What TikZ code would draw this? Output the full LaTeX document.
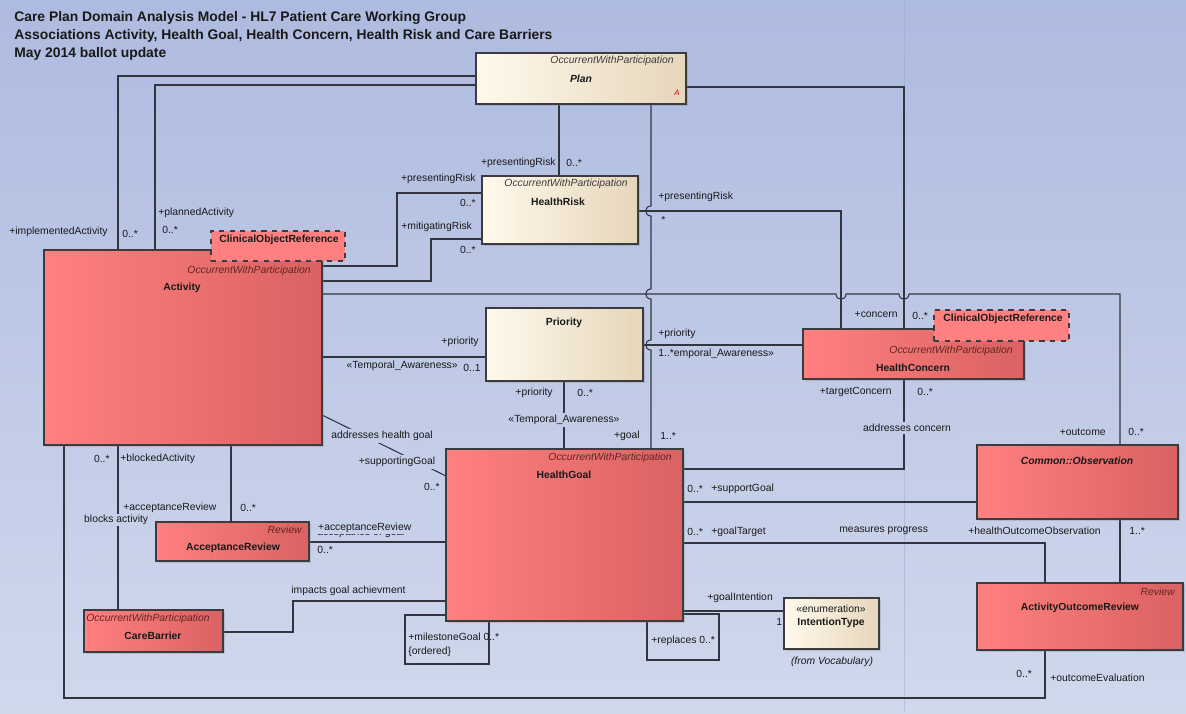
\documentclass[tikz,border=0pt]{standalone}
\usepackage{fontspec}
\setmainfont{Liberation Sans}
\usetikzlibrary{fit,shadows}
\definecolor{bgtop}{RGB}{174,187,224}
\definecolor{bgbot}{RGB}{208,216,236}
\definecolor{redL}{RGB}{255,128,128}
\definecolor{redR}{RGB}{218,98,98}
\definecolor{crL}{RGB}{255,249,236}
\definecolor{crR}{RGB}{230,214,186}
\definecolor{edgec}{RGB}{60,60,64}
\definecolor{lnc}{RGB}{50,52,64}
\definecolor{txt}{RGB}{25,25,25}
\definecolor{sterr}{RGB}{100,35,35}
\definecolor{sterc}{RGB}{60,60,60}
\definecolor{pagec}{RGB}{150,165,205}
\newcommand{\lf}{\fontsize{5.9}{7}\selectfont}
\begin{document}
\begin{tikzpicture}[x=0.02cm,y=-0.02cm,
  cls/.style={draw=edgec, line width=0.6pt, inner sep=0pt,
    drop shadow={shadow xshift=0.04cm, shadow yshift=-0.04cm, opacity=0.3}},
  redbox/.style={cls, left color=redL, middle color=redL, right color=redR},
  creambox/.style={cls, left color=crL, middle color=crL, right color=crR},
  refbox/.style={draw=edgec, dashed, line width=0.6pt, fill=redL, inner sep=0pt},
  lbl/.style={font=\lf, inner sep=0pt, text=txt},
  nm/.style={font=\lf\bfseries, inner sep=0pt, text=txt},
  str/.style={font=\lf\itshape, inner sep=0pt, text=sterr},
  stc/.style={font=\lf\itshape, inner sep=0pt, text=sterc},
  conn/.style={draw=lnc, line width=0.6pt},
]
% background
\fill[top color=bgtop, bottom color=bgbot] (0,0) rectangle (1186,713);
\useasboundingbox (0,0) rectangle (1186,713);
\draw[pagec, opacity=0.45, line width=0.3pt] (904,0) -- (904,713);

% title
\node[anchor=north west, font=\fontsize{7.9}{10.2}\selectfont\bfseries, align=left, inner sep=0pt, text=txt] (title) at (14,11)
 {Care Plan Domain Analysis Model - HL7 Patient Care Working Group\\
  Associations Activity, Health Goal, Health Concern, Health Risk and Care Barriers\\
  May 2014 ballot update};

% connectors (drawn first, under boxes)
\draw[conn] (118,250) |- (476,76);
\draw[conn] (155,250) |- (476,85);
\draw[conn] (559,104) -- (559,176);
\draw[conn] (686,87) -| (904,329);
\draw[conn] (651,104) -- (651,206) .. controls (644,206) and (644,216) .. (651,216)
  -- (651,289) .. controls (644,289) and (644,299) .. (651,299)
  -- (651,340) .. controls (644,340) and (644,350) .. (651,350) -- (651,449);
\draw[conn] (638,211) -| (841,329);
\draw[conn] (322,266) -- (397,266) |- (482,193);
\draw[conn] (322,281) -- (431,281) |- (482,239);
\draw[conn] (322,294) -- (836,294) .. controls (836,301) and (846,301) .. (846,294)
  -- (899,294) .. controls (899,301) and (909,301) .. (909,294) -- (1120,294) -- (1120,445);
\draw[conn] (322,357) -- (486,357);
\draw[conn] (643,345) -- (803,345);
\draw[conn] (564,381) -- (564,449);
\draw[conn] (322,415) -- (446,476);
\draw[conn] (904,379) |- (683,469);
\draw[conn] (683,502) -- (977,502);
\draw[conn] (683,543) -| (1045,583);
\draw[conn] (1120,519) -- (1120,583);
\draw[conn] (64,445) -- (64,698) -| (1045,650);
\draw[conn] (118,445) -- (118,610);
\draw[conn] (231,445) -- (231,522);
\draw[conn] (309,542) -- (446,542);
\draw[conn] (223,632) -- (293,632) |- (446,601);
\draw[conn] (446,615) -- (405,615) -- (405,664) -- (489,664) -- (489,621);
\draw[conn] (683,614) -- (719,614) -- (719,660) -- (647,660) -- (647,621);
\draw[conn] (683,611) -- (784,611);

% classes
\node[creambox, fit={(476,53)(686,104)}] (plan) {};
\node[stc, anchor=east] (planS) at (674,61) {OccurrentWithParticipation};
\node[font=\lf\bfseries\itshape, inner sep=0pt, text=txt] (planN) at (581,79) {Plan};
\node[font=\fontsize{4.5}{5}\selectfont\itshape, inner sep=0pt, text=red!80!black] (planA) at (677,93) {A};

\node[creambox, fit={(482,176)(638,244)}] (hrisk) {};
\node[stc, anchor=east] (hriskS) at (628,184) {OccurrentWithParticipation};
\node[nm] (hriskN) at (558,202) {HealthRisk};

\node[creambox, fit={(486,308)(643,381)}] (prio) {};
\node[nm] (prioN) at (564,323) {Priority};

\node[redbox, fit={(44,250)(322,445)}] (act) {};
\node[str, anchor=east] (actS) at (311,271) {OccurrentWithParticipation};
\node[nm] (actN) at (182,288) {Activity};
\node[refbox, fit={(211,231)(345,261)}] (actref) {};
\node[nm] (actrefN) at (279,240) {ClinicalObjectReference};

\node[redbox, fit={(803,329)(1024,379)}] (hc) {};
\node[str, anchor=east] (hcS) at (1013,351) {OccurrentWithParticipation};
\node[nm] (hcN) at (913,368) {HealthConcern};
\node[refbox, fit={(934,310)(1069,341)}] (hcref) {};
\node[nm] (hcrefN) at (1003,319) {ClinicalObjectReference};

\node[redbox, fit={(446,449)(683,621)}] (hg) {};
\node[str, anchor=east] (hgS) at (672,458) {OccurrentWithParticipation};
\node[nm] (hgN) at (564,475) {HealthGoal};

\node[redbox, fit={(156,522)(309,561)}] (ar) {};
\node[str, anchor=east] (arS) at (302,530) {Review};
\node[nm] (arN) at (233,548) {AcceptanceReview};

\node[redbox, fit={(84,610)(223,652)}] (cb) {};
\node[str, anchor=west] (cbS) at (86,619) {OccurrentWithParticipation};
\node[nm] (cbN) at (153,636) {CareBarrier};

\node[redbox, fit={(977,445)(1178,519)}] (obs) {};
\node[font=\lf\bfseries\itshape, inner sep=0pt, text=txt] (obsN) at (1077,461) {Common::Observation};

\node[redbox, fit={(977,583)(1183,650)}] (aor) {};
\node[str, anchor=east] (aorS) at (1175,592) {Review};
\node[nm] (aorN) at (1080,608) {ActivityOutcomeReview};

\node[creambox, fit={(784,598)(879,649)}] (itype) {};
\node[lbl] (itypeS) at (831,609) {«enumeration»};
\node[nm] (itypeN) at (831,623) {IntentionType};
\node[font=\lf\itshape, inner sep=0pt, text=txt] (itypeF) at (832,662) {(from Vocabulary)};

% role labels
\node[lbl, anchor=west] (l1) at (9,232) {+implementedActivity};
\node[lbl, anchor=west] (l2) at (122,234) {0..*};
\node[lbl, anchor=west] (l3) at (158,213) {+plannedActivity};
\node[lbl, anchor=west] (l4) at (162,230) {0..*};
\node[lbl, anchor=east] (l5) at (556,163) {+presentingRisk};
\node[lbl, anchor=west] (l6) at (566,163) {0..*};
\node[lbl, anchor=east] (l7) at (476,179) {+presentingRisk};
\node[lbl, anchor=east] (l8) at (476,203) {0..*};
\node[lbl, anchor=west] (l9) at (401,227) {+mitigatingRisk};
\node[lbl, anchor=east] (l10) at (476,250) {0..*};
\node[lbl, anchor=west] (l11) at (658,197) {+presentingRisk};
\node[lbl, anchor=west] (l12) at (661,220) {*};
\node[lbl, anchor=east] (l13) at (898,315) {+concern};
\node[lbl, anchor=west] (l14) at (912,316) {0..*};
\node[lbl, anchor=east] (l15) at (479,342) {+priority};
\node[lbl, anchor=east] (l16) at (458,366) {«Temporal\_Awareness»};
\node[lbl, anchor=west] (l17) at (463,368) {0..1};
\node[lbl, anchor=west] (l18) at (658,334) {+priority};
\node[lbl, anchor=west] (l19) at (658,354) {1..*emporal\_Awareness»};
\node[lbl, anchor=east] (l20) at (553,393) {+priority};
\node[lbl, anchor=west] (l21) at (577,393) {0..*};
\node[lbl, fill=bgbot!59!bgtop, inner sep=1pt] (l22) at (564,420) {«Temporal\_Awareness»};
\node[lbl, anchor=east] (l23) at (640,436) {+goal};
\node[lbl, anchor=west] (l24) at (660,436) {1..*};
\node[lbl, anchor=east] (l25) at (892,392) {+targetConcern};
\node[lbl, anchor=west] (l26) at (917,392) {0..*};
\node[lbl, fill=bgbot!60!bgtop, inner sep=1pt] (l27) at (907,428) {addresses concern};
\node[lbl, anchor=east] (l28) at (1106,432) {+outcome};
\node[lbl, anchor=west] (l29) at (1128,432) {0..*};
\node[lbl, fill=bgbot!61!bgtop, inner sep=1pt] (l30) at (382,436) {addresses health goal};
\node[lbl, fill=bgbot!65!bgtop, inner sep=1pt] (l31) at (397,462) {+supportingGoal};
\node[lbl, anchor=east] (l32) at (440,487) {0..*};
\node[lbl, anchor=east] (l33) at (110,459) {0..*};
\node[lbl, anchor=west] (l34) at (120,459) {+blockedActivity};
\node[lbl, anchor=west] (l35) at (123,508) {+acceptanceReview};
\node[lbl, anchor=west] (l36) at (240,508) {0..*};
\node[lbl, anchor=west, fill=bgbot!73!bgtop, inner sep=0.5pt] (l37) at (83,520) {blocks activity};
\node[lbl, anchor=west] (l38) at (317,533) {acceptance of goal};
\node[lbl, anchor=west, fill=bgbot!74!bgtop, inner sep=0.5pt] (l39) at (317,528) {+acceptanceReview};
\node[lbl, anchor=west] (l40) at (317,550) {0..*};
\node[lbl, anchor=west] (l41) at (291,591) {impacts goal achievment};
\node[lbl, anchor=west] (l42) at (408,637) {+milestoneGoal 0..*};
\node[lbl, anchor=west] (l43) at (408,652) {\{ordered\}};
\node[lbl, anchor=west] (l44) at (651,641) {+replaces 0..*};
\node[lbl, anchor=west] (l45) at (687,489) {0..*};
\node[lbl, anchor=west] (l46) at (711,489) {+supportGoal};
\node[lbl, anchor=west] (l47) at (687,532) {0..*};
\node[lbl, anchor=west] (l48) at (711,532) {+goalTarget};
\node[lbl, anchor=west] (l49) at (839,531) {measures progress};
\node[lbl, anchor=west] (l50) at (968,531) {+healthOutcomeObservation};
\node[lbl, anchor=west] (l51) at (1129,531) {1..*};
\node[lbl, anchor=west] (l52) at (707,598) {+goalIntention};
\node[lbl, anchor=west] (l53) at (776,622) {1};
\node[lbl, anchor=west] (l54) at (1016,674) {0..*};
\node[lbl, anchor=west] (l55) at (1050,678) {+outcomeEvaluation};
\end{tikzpicture}
\end{document}
